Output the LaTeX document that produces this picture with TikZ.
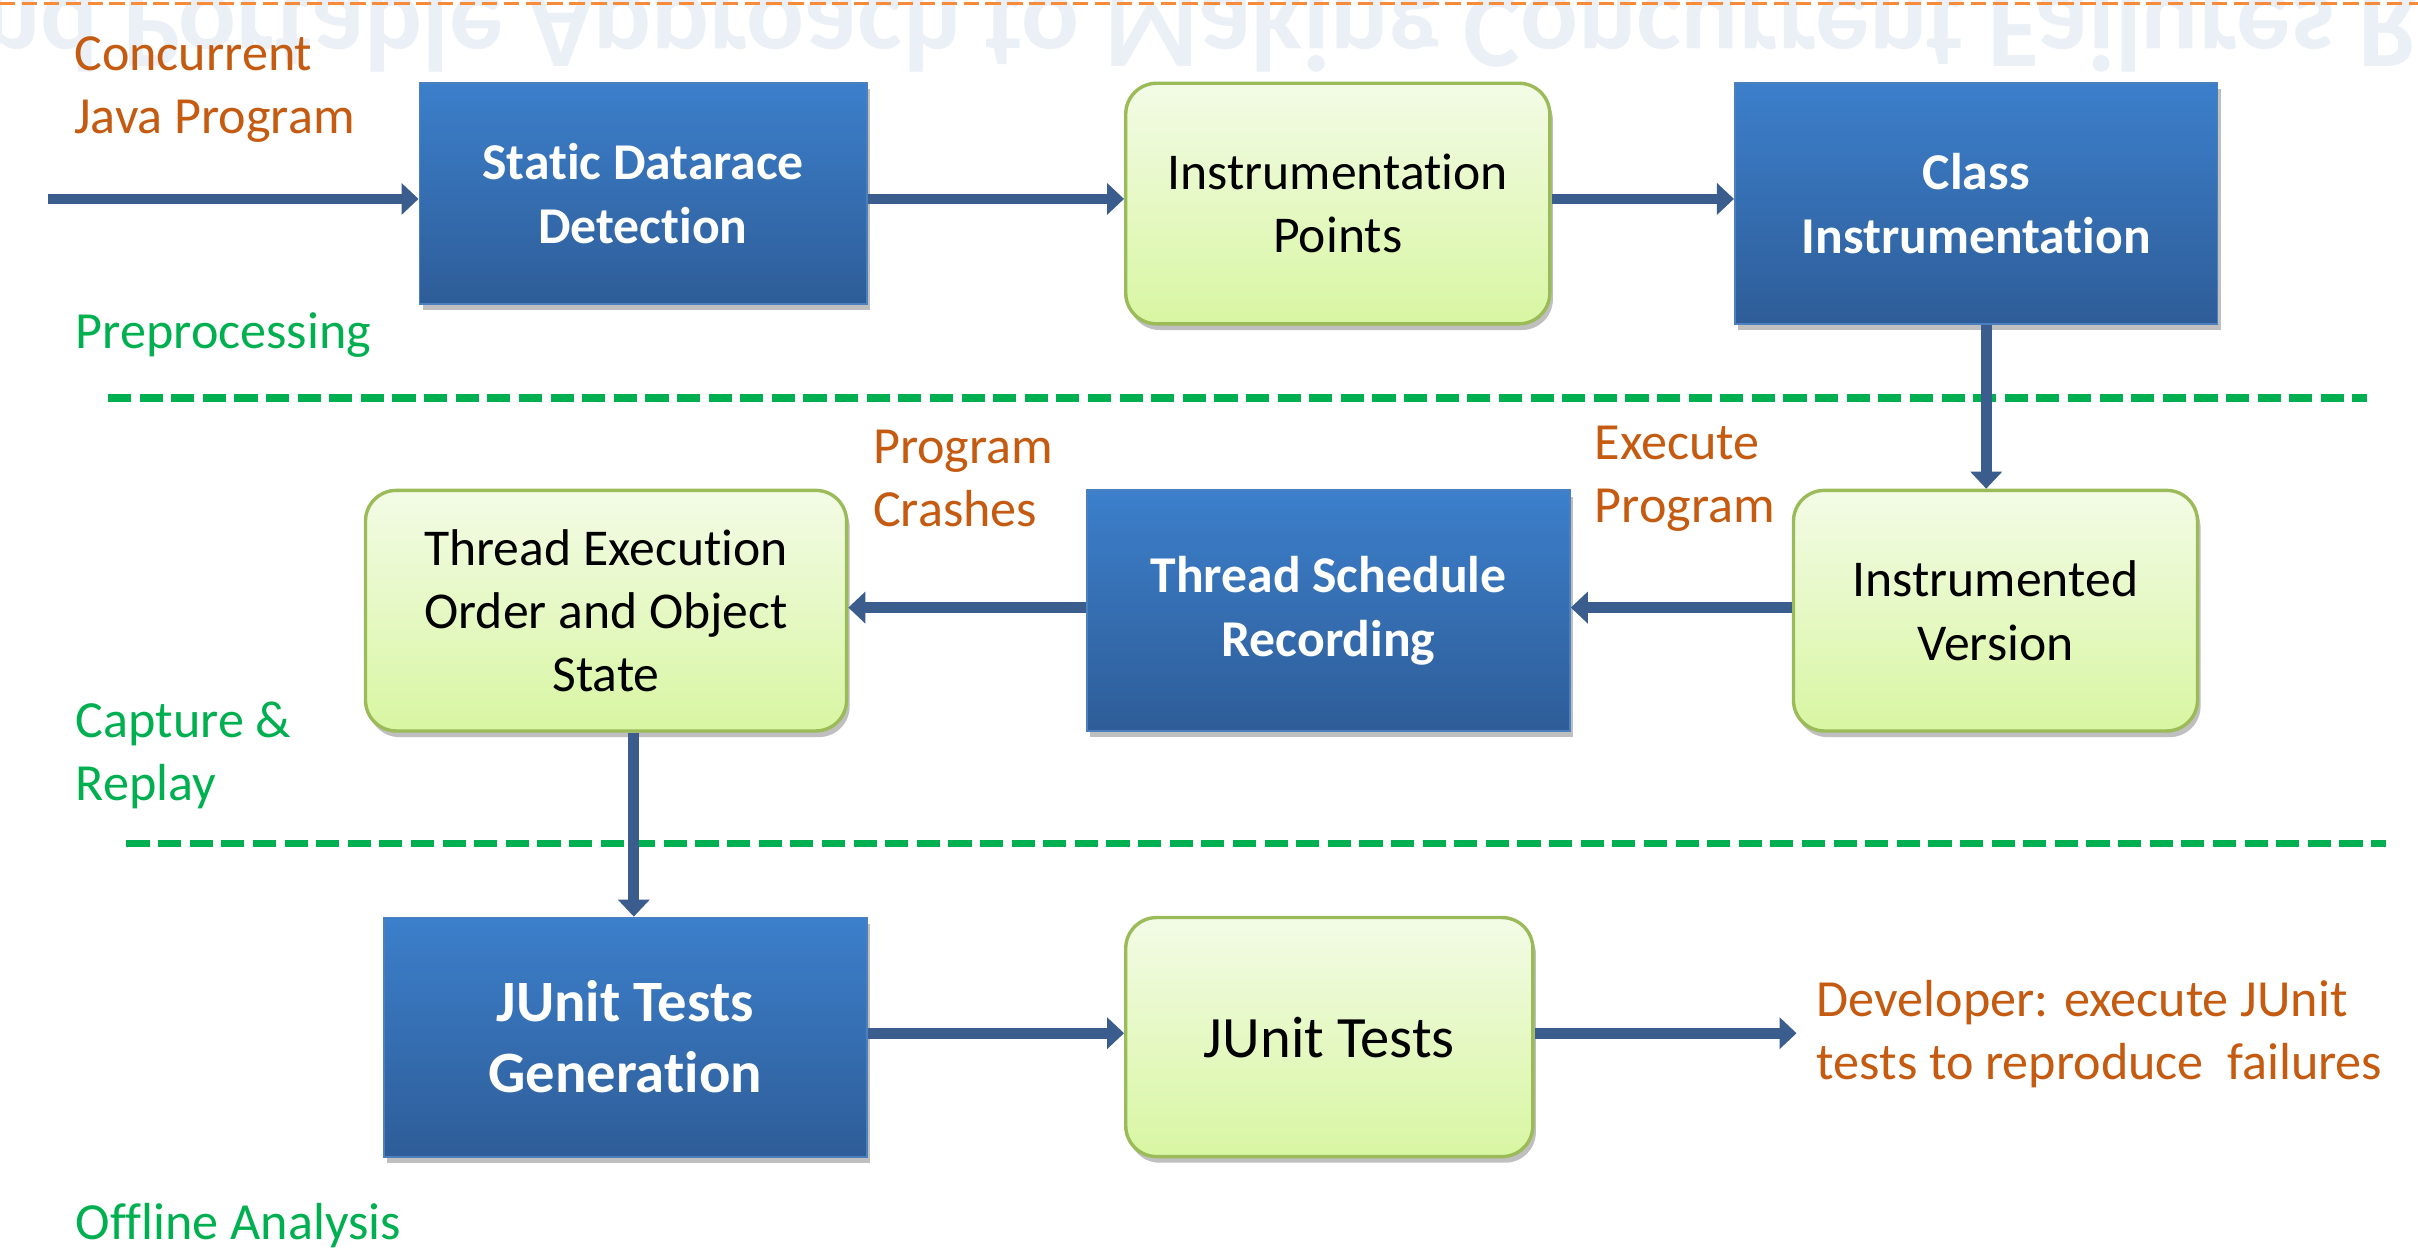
\documentclass[tikz,border=0pt]{standalone}
\usepackage{fontspec}
\setmainfont{Carlito}[Ligatures={NoCommon}]
\usepackage{graphicx}
\usetikzlibrary{arrows.meta,shadows}
\definecolor{boxtop}{HTML}{3C7FCB}
\definecolor{boxbot}{HTML}{2E5D98}
\definecolor{boxedge}{HTML}{4C7FBE}
\definecolor{gtop}{HTML}{F3FBE6}
\definecolor{gbot}{HTML}{D8F6A2}
\definecolor{gedge}{HTML}{9BBB59}
\definecolor{arrowc}{HTML}{3A5D8E}
\definecolor{orangetxt}{HTML}{C55A11}
\definecolor{greentxt}{HTML}{00B050}
\definecolor{greendash}{HTML}{00B050}
\definecolor{topdash}{HTML}{F88B3A}
\definecolor{ghost}{HTML}{EBF0F7}
\begin{document}
\begin{tikzpicture}[x=1pt,y=-1pt,
  shadowed/.style={drop shadow={shadow xshift=2pt,shadow yshift=-4pt,opacity=0.25,fill=black}},
  bluebox/.style={shadowed, draw=boxedge, line width=1.2pt, top color=boxtop, bottom color=boxbot,
    text=white, font=\fontsize{33.5}{41}\selectfont\bfseries, align=center, inner sep=0pt},
  greenbox/.style={shadowed, draw=gedge, line width=2.2pt, rounded corners=20pt, top color=gtop, bottom color=gbot,
    text=black, font=\fontsize{33.5}{41}\selectfont, align=center, inner sep=0pt},
  lab/.style={font=\fontsize{33.8}{41}\selectfont, align=left, inner sep=0pt, anchor=west},
  arr/.style={draw=arrowc, line width=7pt, -{Triangle[width=20pt,length=11pt]}},
  sep/.style={draw=greendash, line width=4.8pt, dash pattern=on 15pt off 5.5pt}
]
\useasboundingbox (0,0) rectangle (1568,813);
\fill[white] (0,0) rectangle (1568,813);

% faint reflected title
\begin{scope}
\clip (0,0) rectangle (1568,813);
\node[anchor=base west, inner sep=0pt, text=ghost, font=\fontsize{70}{70}\selectfont\bfseries] (ghosttitle) at (-46,-2)
  {\scalebox{1}[-1]{and Portable Approach to Making Concurrent Failures Reproducible}};
\end{scope}

% top orange dashed line
\draw[topdash, line width=2pt, dash pattern=on 10pt off 4.2pt] (0,2) -- (1568,2);

% separators
\draw[sep] (70,258) -- (1535,258);
\draw[sep] (82,547) -- (1547,547);

% boxes
\node[bluebox, minimum width=290pt, minimum height=143pt] (sdd) at (417,125.5) {Static Datarace\\Detection};
\node[greenbox, minimum width=275pt, minimum height=156pt] (ip) at (867.5,132) {Instrumentation\\Points};
\node[bluebox, minimum width=313pt, minimum height=156pt] (ci) at (1281.5,132) {Class\\Instrumentation};
\node[greenbox, minimum width=262pt, minimum height=156pt] (iv) at (1294,396) {Instrumented\\Version};
\node[bluebox, minimum width=313pt, minimum height=156pt] (tsr) at (861.5,396) {Thread Schedule\\Recording};
\node[greenbox, minimum width=312pt, minimum height=156pt] (teo) at (393,396) {Thread Execution\\Order and Object\\State};
\node[bluebox, minimum width=313pt, minimum height=155pt, font=\fontsize{38}{46}\selectfont\bfseries] (jug) at (405.5,672.5) {JUnit Tests\\Generation};
\node[greenbox, minimum width=264pt, minimum height=155pt, font=\fontsize{38}{46}\selectfont] (jt) at (862,672.5) {JUnit Tests};

% labels
\node[lab, text=orangetxt] (cjp) at (48,58) {Concurrent\\Java Program};
\node[lab, text=greentxt] (pre) at (49,217) {Preprocessing};
\node[lab, text=orangetxt] (pc) at (566,310.5) {Program\\Crashes};
\node[lab, text=orangetxt] (ep) at (1034,310.5) {Execute\\Program};
\node[lab, text=greentxt] (cr) at (49,490) {Capture \&\\Replay};
\node[lab, text=greentxt] (oa) at (49,794.5) {Offline Analysis};
\node[lab, text=orangetxt] (dev) at (1178,670.5) {Developer: execute JUnit\\tests to reproduce\ \ failures};

% helper coordinates
\coordinate (in) at (31,129);
\coordinate (ry) at (0,394);
\coordinate (by) at (0,670);
\coordinate (cx) at (1288,0);
\coordinate (dx) at (411,0);
\coordinate (out) at (1165,670);

% connectors
\draw[arr] (in) -- (in -| sdd.west);
\draw[arr] (sdd.east |- in) -- (ip.west |- in);
\draw[arr] (ip.east |- in) -- (ci.west |- in);
\draw[arr] (cx |- ci.south) -- (cx |- iv.north);
\draw[arr] (iv.west |- ry) -- (tsr.east |- ry);
\draw[arr] (tsr.west |- ry) -- (teo.east |- ry);
\draw[arr] (dx |- teo.south) -- (dx |- jug.north);
\draw[arr] (jug.east |- by) -- (jt.west |- by);
\draw[arr] (jt.east |- by) -- (out);
\end{tikzpicture}
\end{document}
